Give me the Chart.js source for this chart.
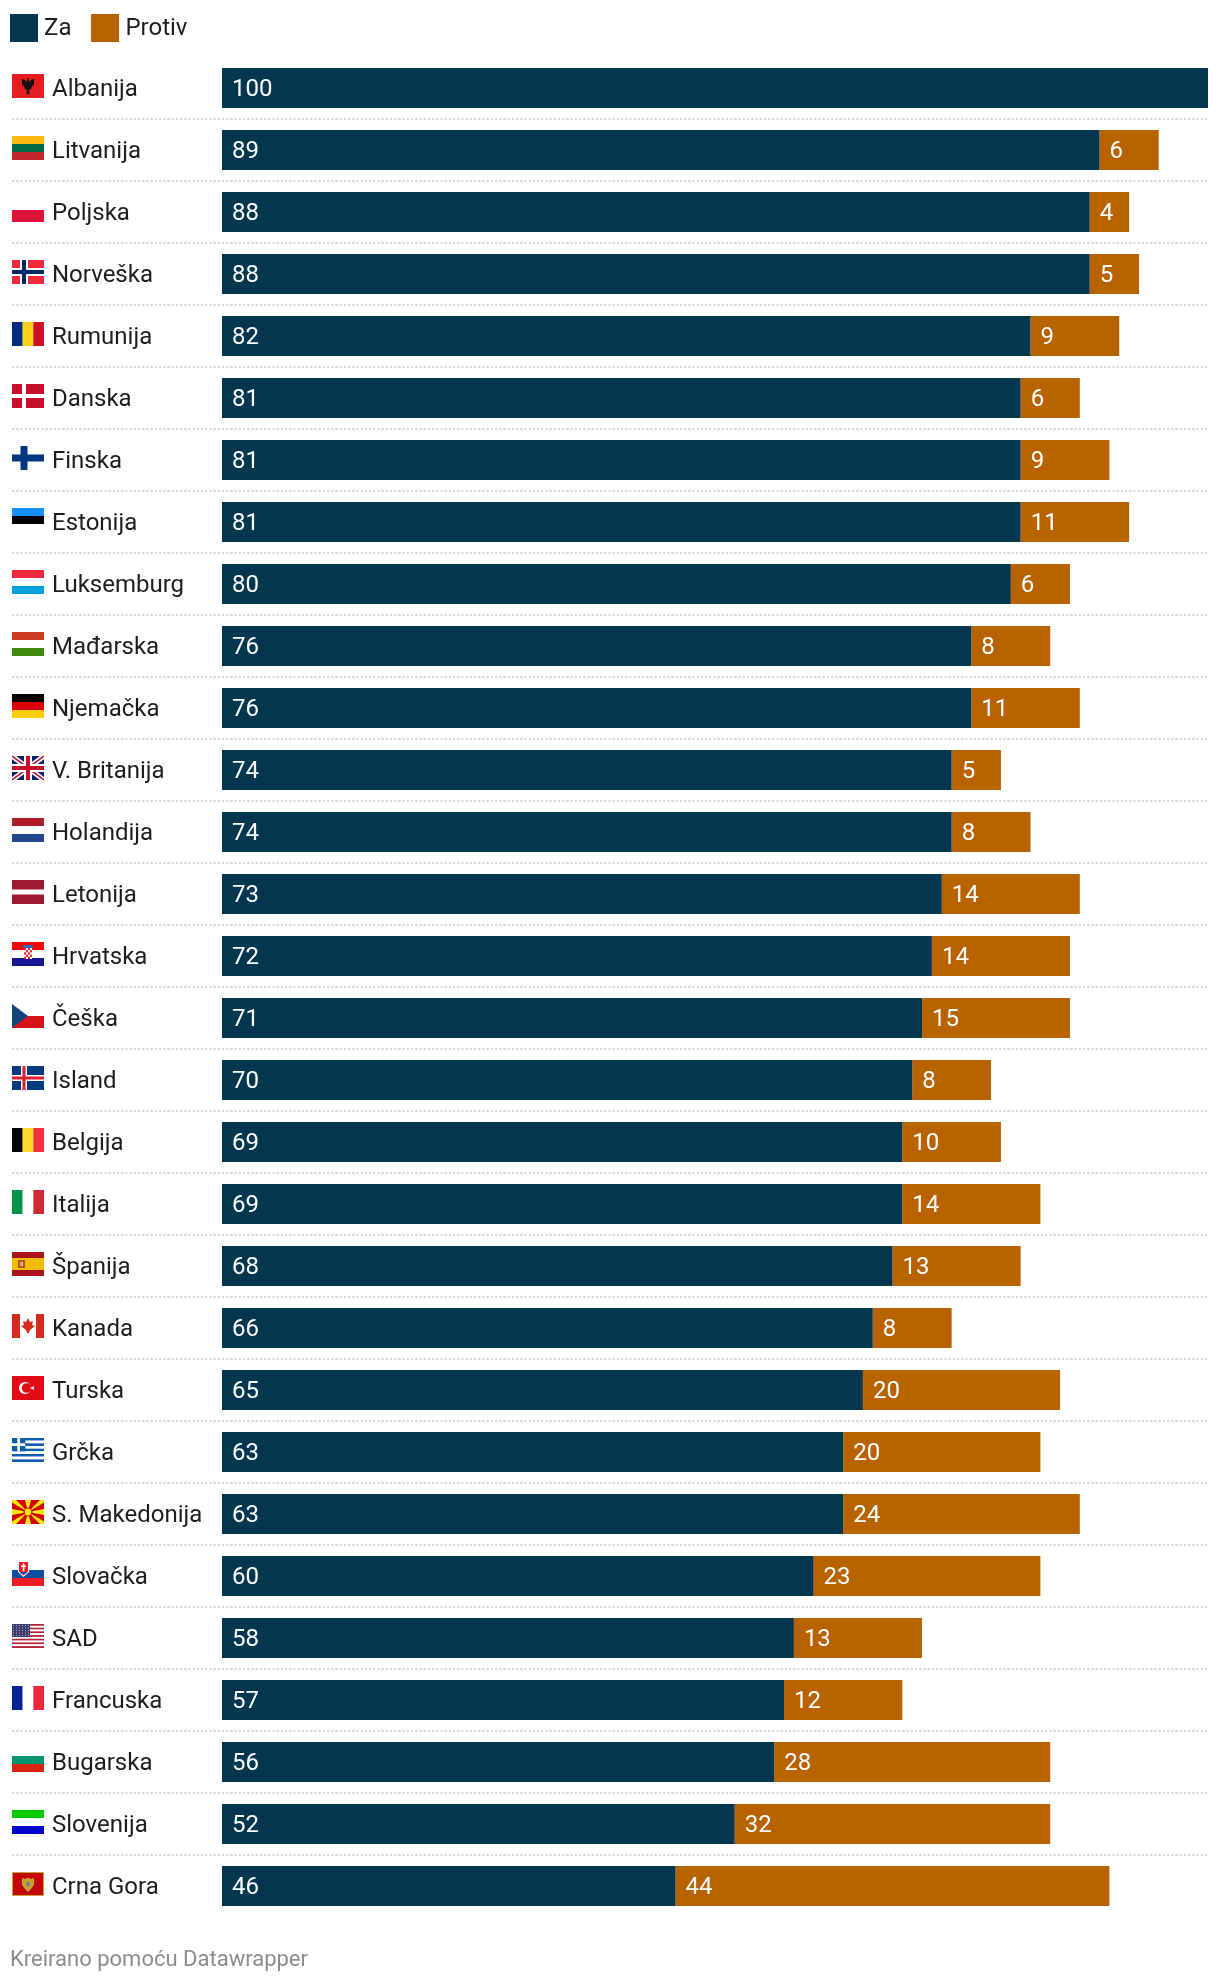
<!DOCTYPE html>
<html>
<head>
<meta charset="utf-8">
<title>Za / Protiv</title>
<script src="https://cdn.jsdelivr.net/npm/chart.js@4"></script>
<style>
  html, body { margin: 0; padding: 0; background: #fff; }
  body { width: 1220px; height: 1984px; position: relative; overflow: hidden; font-family: Roboto, sans-serif; }
  #chartWrap { position: absolute; left: 0; top: 0; width: 1220px; height: 1984px; }
  #legend { position: absolute; left: 10px; top: 14px; display: flex; font-size: 24px; color: #1d1d1d; line-height: 26px; }
  #legend .item { display: flex; margin-right: 20px; }
  #legend .swatch { width: 28px; height: 28px; margin-right: 6px; }
  #footer { position: absolute; left: 10px; top: 1945px; font-size: 22px; line-height: 28px; color: #8c8c8c; }
</style>
</head>
<body>
<div id="chartWrap"><canvas id="chart"></canvas></div>
<div id="legend"></div>
<div id="footer">Kreirano pomoću Datawrapper</div>

<script>
const countries = ["Albanija", "Litvanija", "Poljska", "Norveška", "Rumunija", "Danska", "Finska", "Estonija", "Luksemburg", "Mađarska",
  "Njemačka", "V. Britanija", "Holandija", "Letonija", "Hrvatska", "Češka", "Island", "Belgija", "Italija", "Španija",
  "Kanada", "Turska", "Grčka", "S. Makedonija", "Slovačka", "SAD", "Francuska", "Bugarska", "Slovenija", "Crna Gora"];
const za = [100, 89, 88, 88, 82, 81, 81, 81, 80, 76, 76, 74, 74, 73, 72, 71, 70, 69, 69, 68, 66, 65, 63, 63, 60, 58, 57, 56, 52, 46];
const protiv = [null, 6, 4, 5, 9, 6, 9, 11, 6, 8, 11, 5, 8, 14, 14, 15, 8, 10, 14, 13, 8, 20, 20, 24, 23, 13, 12, 28, 32, 44];
const seriesNames = ["Za", "Protiv"];
const seriesColors = ["#03364f", "#b86200"];

// legend is plain html
document.getElementById("legend").innerHTML = seriesNames.map((name, i) =>
  `<div class="item"><div class="swatch" style="background:${seriesColors[i]}"></div>${name}</div>`).join("");

// flag helpers, box is 32x24
function stripesH(c, colors) {
  colors.forEach((col, i) => { c.fillStyle = col; c.fillRect(0, i * 24 / colors.length, 32, 24 / colors.length); });
}
function stripesV(c, colors) {
  colors.forEach((col, i) => { c.fillStyle = col; c.fillRect(i * 32 / colors.length, 0, 32 / colors.length, 24); });
}
function nordic(c, bg, out, inner, w1, w2) {
  c.fillStyle = bg; c.fillRect(0, 0, 32, 24);
  c.fillStyle = out; c.fillRect(12 - w1 / 2, 0, w1, 24); c.fillRect(0, 12 - w1 / 2, 32, w1);
  if (inner) {
    c.fillStyle = inner;
    c.fillRect(12 - w2 / 2, 0, w2, 24); c.fillRect(0, 12 - w2 / 2, 32, w2);
  }
}
function poly(c, col, pts) {
  c.fillStyle = col; c.beginPath();
  pts.forEach((p, i) => i ? c.lineTo(p[0], p[1]) : c.moveTo(p[0], p[1]));
  c.closePath(); c.fill();
}
function dot(c, col, x, y, r) {
  c.fillStyle = col; c.beginPath(); c.arc(x, y, r, 0, Math.PI * 2); c.fill();
}

const flags = {
  "Albanija": c => {
    stripesH(c, ["#e41e20"]);
    poly(c, "#111", [[10, 5], [13, 6], [15, 8], [15.5, 4], [16.5, 4], [17, 8], [19, 6], [22, 5], [22, 11], [20, 12], [19, 15], [17, 16], [17.5, 20], [14.5, 20], [15, 16], [13, 15], [12, 12], [10, 11]]);
  },
  "Litvanija": c => stripesH(c, ["#fdb913", "#006a44", "#c1272d"]),
  "Poljska": c => stripesH(c, ["#ffffff", "#dc143c"]),
  "Norveška": c => nordic(c, "#ef2b3d", "#ffffff", "#002868", 8, 4),
  "Rumunija": c => stripesV(c, ["#002b7f", "#fcd116", "#ce1126"]),
  "Danska": c => nordic(c, "#c8102e", "#ffffff", null, 4, 0),
  "Finska": c => nordic(c, "#ffffff", "#003580", null, 7, 0),
  "Estonija": c => stripesH(c, ["#1291ff", "#000000", "#ffffff"]),
  "Luksemburg": c => stripesH(c, ["#ef2b3d", "#ffffff", "#00a1de"]),
  "Mađarska": c => stripesH(c, ["#cd3a1f", "#ffffff", "#3f8a0b"]),
  "Njemačka": c => stripesH(c, ["#000000", "#dd0000", "#ffce00"]),
  "V. Britanija": c => {
    stripesH(c, ["#012169"]);
    c.lineWidth = 5; c.strokeStyle = "#fff";
    c.beginPath(); c.moveTo(0, 0); c.lineTo(32, 24); c.moveTo(32, 0); c.lineTo(0, 24); c.stroke();
    c.lineWidth = 1.6; c.strokeStyle = "#c8102e";
    c.beginPath(); c.moveTo(0, 0); c.lineTo(32, 24); c.moveTo(32, 0); c.lineTo(0, 24); c.stroke();
    c.fillStyle = "#fff"; c.fillRect(12, 0, 8, 24); c.fillRect(0, 8, 32, 8);
    c.fillStyle = "#c8102e"; c.fillRect(14, 0, 4, 24); c.fillRect(0, 10, 32, 4);
  },
  "Holandija": c => stripesH(c, ["#ae1c28", "#ffffff", "#21468b"]),
  "Letonija": c => {
    stripesH(c, ["#9e1b32"]);
    c.fillStyle = "#fff"; c.fillRect(0, 9.5, 32, 5);
  },
  "Hrvatska": c => {
    stripesH(c, ["#ff0000", "#ffffff", "#171796"]);
    c.fillStyle = "#3a66b8"; c.fillRect(11, 3, 10, 3);
    c.fillStyle = "#e8202a"; c.fillRect(12, 6, 8, 11);
    c.fillStyle = "#fff";
    for (let i = 0; i < 4; i++) for (let j = 0; j < 5; j++) if ((i + j) % 2) c.fillRect(12 + i * 2, 6 + j * 2.2, 2, 2.2);
  },
  "Češka": c => {
    stripesH(c, ["#ffffff", "#d7141a"]);
    poly(c, "#11457e", [[0, 0], [16, 12], [0, 24]]);
  },
  "Island": c => nordic(c, "#02397f", "#ffffff", "#dc1e35", 6, 3),
  "Belgija": c => stripesV(c, ["#000000", "#fdda24", "#ef3340"]),
  "Italija": c => stripesV(c, ["#009246", "#ffffff", "#ce2b37"]),
  "Španija": c => {
    stripesH(c, ["#aa151b", "#f1bf00", "#f1bf00", "#aa151b"]);
    c.fillStyle = "#b5562f"; c.fillRect(6, 8, 7, 8);
    c.fillStyle = "#e8b060"; c.fillRect(8, 10, 3, 4);
  },
  "Kanada": c => {
    stripesV(c, ["#d52b1e", "#ffffff", "#ffffff", "#d52b1e"]);
    poly(c, "#d52b1e", [[16, 4], [18, 8], [21, 7], [20, 11], [23, 12], [18, 16], [17, 19], [15, 19], [14, 16], [9, 12], [12, 11], [11, 7], [14, 8]]);
  },
  "Turska": c => {
    stripesH(c, ["#e30a17"]);
    dot(c, "#fff", 13, 12, 6); dot(c, "#e30a17", 14.6, 12, 4.8);
    poly(c, "#fff", [[18, 12], [22.5, 10], [21.5, 12], [22.5, 14]]);
  },
  "Grčka": c => {
    const cols = ["#0d5eaf", "#ffffff"];
    for (let i = 0; i < 9; i++) { c.fillStyle = cols[i % 2]; c.fillRect(0, i * 24 / 9, 32, 24 / 9); }
    c.fillStyle = "#0d5eaf"; c.fillRect(0, 0, 13.3, 13.3);
    c.fillStyle = "#fff"; c.fillRect(5.3, 0, 2.7, 13.3); c.fillRect(0, 5.3, 13.3, 2.7);
  },
  "S. Makedonija": c => {
    stripesH(c, ["#d20000"]);
    const cx = 16, cy = 12;
    [[0, 0], [32, 0], [32, 24], [0, 24]].forEach(p => poly(c, "#ffe600", [[cx, cy], [p[0] - 4, p[1]], [p[0] + 4, p[1]]]));
    [[16, 0], [16, 24]].forEach(p => poly(c, "#ffe600", [[cx, cy], [p[0] - 3, p[1]], [p[0] + 3, p[1]]]));
    [[0, 12], [32, 12]].forEach(p => poly(c, "#ffe600", [[cx, cy], [p[0], p[1] - 3], [p[0], p[1] + 3]]));
    dot(c, "#d20000", cx, cy, 4.4); dot(c, "#ffe600", cx, cy, 3.4);
  },
  "Slovačka": c => {
    stripesH(c, ["#ffffff", "#0b4ea2", "#ee1c25"]);
    poly(c, "#fff", [[6, 0], [17, 0], [17, 10], [11.5, 15], [6, 10]]);
    poly(c, "#ee1c25", [[7, 0], [16, 0], [16, 9.5], [11.5, 13.5], [7, 9.5]]);
    c.fillStyle = "#fff"; c.fillRect(10.8, 1.5, 1.6, 8); c.fillRect(9, 3.5, 5, 1.4);
    c.fillStyle = "#0b4ea2"; c.fillRect(8.5, 10, 6, 1.6);
  },
  "SAD": c => {
    const cols = ["#b22234", "#ffffff"];
    for (let i = 0; i < 13; i++) { c.fillStyle = cols[i % 2]; c.fillRect(0, i * 24 / 13, 32, 24 / 13); }
    c.fillStyle = "#3c3b6e"; c.fillRect(0, 0, 18, 13);
    c.fillStyle = "#aab";
    for (let i = 0; i < 6; i++) for (let j = 0; j < 5; j++) c.fillRect(1 + i * 3, 1 + j * 2.5, 1, 1);
  },
  "Francuska": c => stripesV(c, ["#002395", "#ffffff", "#ed2939"]),
  "Bugarska": c => stripesH(c, ["#ffffff", "#00966e", "#d62612"]),
  "Slovenija": c => stripesH(c, ["#00cc00", "#ffffff", "#0000cc"]),
  "Crna Gora": c => {
    stripesH(c, ["#c8a032"]);
    c.fillStyle = "#c40308"; c.fillRect(1, 1, 30, 22);
    poly(c, "#c8a032", [[10, 6], [13, 7], [15, 6], [17, 6], [19, 7], [22, 6], [22, 13], [19, 17], [16, 20], [13, 17], [10, 13]]);
    c.fillStyle = "#5d7f9a"; c.fillRect(14.5, 10, 3, 4);
  }
};

// dotted row separators and flags, next to the tick labels
const rowDecor = {
  id: "rowDecor",
  afterDraw(chart) {
    const c = chart.ctx, y = chart.scales.y;
    const rowH = y.getPixelForTick(1) - y.getPixelForTick(0);
    c.save();
    c.strokeStyle = "#d8d8d8"; c.lineWidth = 2; c.setLineDash([2.2, 2]);
    countries.forEach((name, i) => {
      if (i === countries.length - 1) return;
      const sy = y.getPixelForTick(i) + rowH / 2;
      c.beginPath(); c.moveTo(12, sy); c.lineTo(chart.chartArea.right, sy); c.stroke();
    });
    c.setLineDash([]);
    countries.forEach((name, i) => {
      c.save();
      c.translate(12, y.getPixelForTick(i) - 14);
      c.beginPath(); c.rect(0, 0, 32, 24); c.clip();
      flags[name](c);
      c.restore();
    });
    c.restore();
  }
};

// values inside the bars, 10px from where each segment starts
const valueLabels = {
  id: "valueLabels",
  afterDatasetsDraw(chart) {
    const c = chart.ctx;
    c.save();
    c.font = "24px Roboto";
    c.fillStyle = "#ffffff";
    c.textBaseline = "middle";
    chart.data.datasets.forEach((ds, d) => {
      chart.getDatasetMeta(d).data.forEach((bar, i) => {
        if (ds.data[i] == null) return;
        c.fillText(ds.data[i], bar.base + 10, bar.y + 1.5);
      });
    });
    c.restore();
  }
};

new Chart(document.getElementById("chart"), {
  type: "bar",
  data: {
    labels: countries,
    datasets: [
      { label: seriesNames[0], data: za, backgroundColor: seriesColors[0] },
      { label: seriesNames[1], data: protiv, backgroundColor: seriesColors[1] }
    ]
  },
  options: {
    indexAxis: "y",
    responsive: true,
    maintainAspectRatio: false,
    animation: false,
    layout: { padding: { left: 52, right: 12, top: 57, bottom: 67 } },
    datasets: { bar: { categoryPercentage: 1, barPercentage: 40 / 62, borderWidth: 0 } },
    scales: {
      x: { stacked: true, min: 0, max: 100, display: false },
      y: {
        stacked: true,
        grid: { display: false, drawTicks: false },
        border: { display: false },
        ticks: { crossAlign: "far", autoSkip: false, labelOffset: 2, color: "#1d1d1d", font: { family: "Roboto", size: 24 } },
        afterFit(scale) { scale.width = 170; }
      }
    },
    plugins: { legend: { display: false }, tooltip: { enabled: false } }
  },
  plugins: [rowDecor, valueLabels]
});
</script>
</body>
</html>
